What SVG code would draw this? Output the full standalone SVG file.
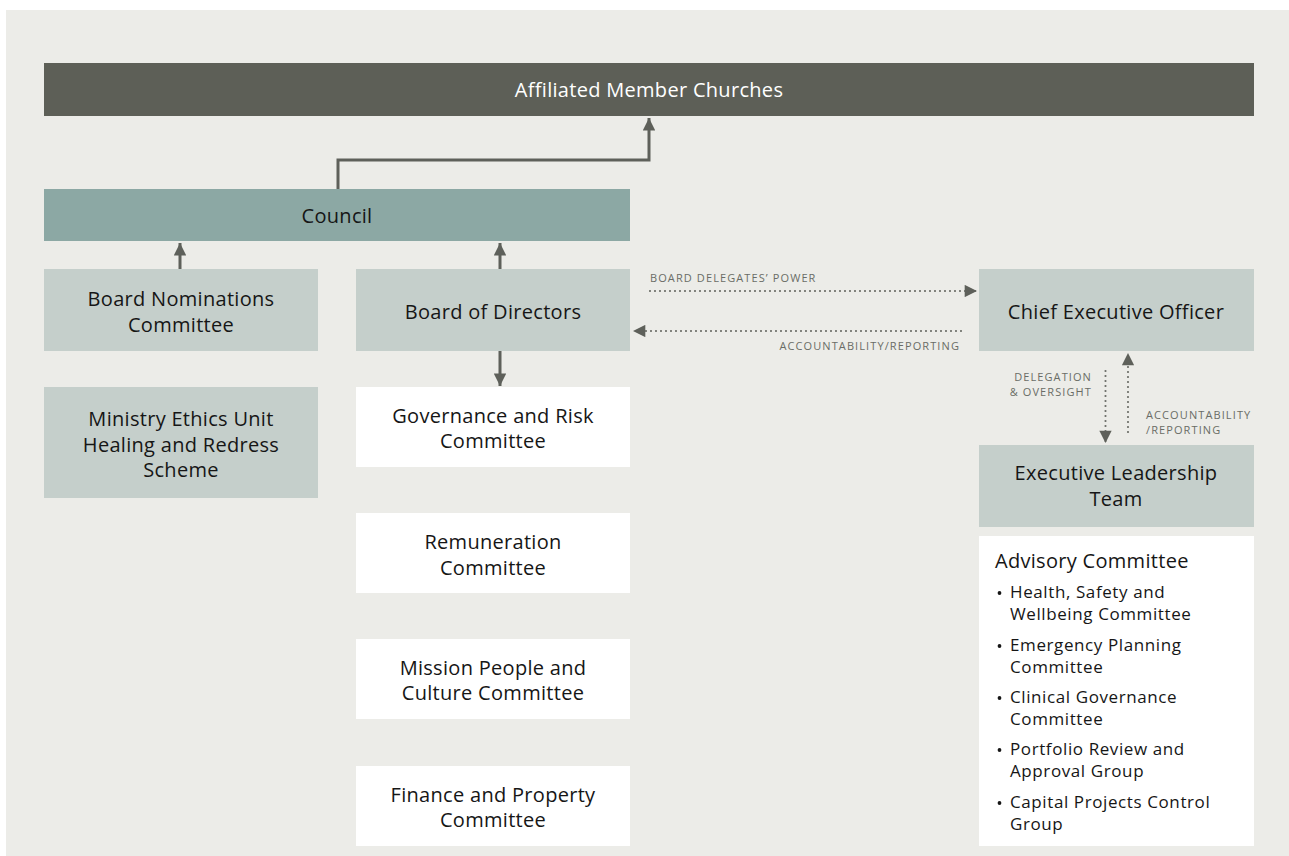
<svg xmlns="http://www.w3.org/2000/svg" width="1289" height="856" viewBox="0 0 1289 856">
<defs>
<style>
.t{font-family:"Open Sans","Liberation Sans",sans-serif;font-size:20px;letter-spacing:0.3px;fill:#161616;text-anchor:middle}
.m{font-weight:500}
.w{fill:#ffffff}
.lbl{font-family:"Open Sans","Liberation Sans",sans-serif;font-size:11px;fill:#6a6c66;letter-spacing:1.1px}
.adv{font-family:"Open Sans","Liberation Sans",sans-serif;font-size:17px;letter-spacing:0.6px;fill:#161616}
.solid{fill:none;stroke:#5e605a;stroke-width:3}
.dot{fill:none;stroke:#6a6c66;stroke-width:2.2;stroke-dasharray:0 5;stroke-linecap:round}
.g1{fill:#c5cfcb}
.wb{fill:#ffffff}
</style>
<marker id="ah" viewBox="0 0 10 10" refX="10" refY="5" markerWidth="6" markerHeight="4.2" markerUnits="strokeWidth" orient="auto">
<path d="M0,0 L10,5 L0,10 z" fill="#5e605a"/>
</marker>
<marker id="ad" viewBox="0 0 10 10" refX="10" refY="5" markerWidth="7.7" markerHeight="5.6" markerUnits="strokeWidth" orient="auto">
<path d="M0,0 L10,5 L0,10 z" fill="#5e605a"/>
</marker>
</defs>
<rect x="0" y="0" width="1289" height="856" fill="#ffffff"/>
<rect x="6" y="10" width="1283" height="846" fill="#ecece8"/>

<g id="connectors">
<polyline class="solid" points="338,189 338,160 649,160 649,118" marker-end="url(#ah)"/>
<line class="solid" x1="180" y1="269" x2="180" y2="243" marker-end="url(#ah)"/>
<line class="solid" x1="500" y1="269" x2="500" y2="243" marker-end="url(#ah)"/>
<line class="solid" x1="500" y1="351" x2="500" y2="386" marker-end="url(#ah)"/>
<line class="dot" x1="650" y1="291" x2="977" y2="291" marker-end="url(#ad)"/>
<line class="dot" x1="961" y1="331" x2="633" y2="331" marker-end="url(#ad)"/>
<line class="dot" x1="1105.5" y1="371" x2="1105.5" y2="443" marker-end="url(#ad)"/>
<line class="dot" x1="1128" y1="432" x2="1128" y2="353" marker-end="url(#ad)"/>
<text class="lbl" x="650" y="282">BOARD DELEGATES’ POWER</text>
<text class="lbl" x="960" y="350" text-anchor="end">ACCOUNTABILITY/REPORTING</text>
<text class="lbl" x="1092" y="381" text-anchor="end">DELEGATION</text>
<text class="lbl" x="1092" y="396" text-anchor="end">&amp; OVERSIGHT</text>
<text class="lbl" x="1146" y="419">ACCOUNTABILITY</text>
<text class="lbl" x="1146" y="434">/REPORTING</text>
</g>

<g id="affiliated">
<rect x="44" y="63" width="1210" height="53" fill="#5d5f57"/>
<text class="t w" x="649" y="97">Affiliated Member Churches</text>
</g>
<g id="council">
<rect x="44" y="189" width="586" height="52" fill="#8ca8a4"/>
<text class="t m" x="337" y="223">Council</text>
</g>
<g id="board-nominations">
<rect class="g1" x="44" y="269" width="274" height="82"/>
<text class="t m" x="181" y="306">Board Nominations</text>
<text class="t m" x="181" y="332">Committee</text>
</g>
<g id="board-directors">
<rect class="g1" x="356" y="269" width="274" height="82"/>
<text class="t m" x="493" y="319">Board of Directors</text>
</g>
<g id="ministry-ethics">
<rect class="g1" x="44" y="387" width="274" height="111"/>
<text class="t m" x="181" y="426">Ministry Ethics Unit</text>
<text class="t m" x="181" y="452">Healing and Redress</text>
<text class="t m" x="181" y="477">Scheme</text>
</g>
<g id="governance">
<rect class="wb" x="356" y="387" width="274" height="80"/>
<text class="t" x="493" y="423">Governance and Risk</text>
<text class="t" x="493" y="448">Committee</text>
</g>
<g id="remuneration">
<rect class="wb" x="356" y="513" width="274" height="80"/>
<text class="t" x="493" y="549">Remuneration</text>
<text class="t" x="493" y="575">Committee</text>
</g>
<g id="mission">
<rect class="wb" x="356" y="639" width="274" height="80"/>
<text class="t" x="493" y="675">Mission People and</text>
<text class="t" x="493" y="700">Culture Committee</text>
</g>
<g id="finance">
<rect class="wb" x="356" y="766" width="274" height="80"/>
<text class="t" x="493" y="802">Finance and Property</text>
<text class="t" x="493" y="827">Committee</text>
</g>
<g id="ceo">
<rect class="g1" x="979" y="269" width="275" height="82"/>
<text class="t m" x="1116" y="319">Chief Executive Officer</text>
</g>
<g id="elt">
<rect class="g1" x="979" y="445" width="275" height="82"/>
<text class="t m" x="1116" y="480">Executive Leadership</text>
<text class="t m" x="1116" y="506">Team</text>
</g>
<g id="advisory">
<rect class="wb" x="979" y="536" width="275" height="310"/>
<text class="adv" x="995" y="568" style="font-size:20px;font-weight:500;letter-spacing:0.3px">Advisory Committee</text>
<g class="adv">
<circle cx="999.5" cy="593" r="1.9" fill="#161616"/>
<text x="1010" y="598">Health, Safety and</text>
<text x="1010" y="620">Wellbeing Committee</text>
<circle cx="999.5" cy="646" r="1.9" fill="#161616"/>
<text x="1010" y="651">Emergency Planning</text>
<text x="1010" y="673">Committee</text>
<circle cx="999.5" cy="698" r="1.9" fill="#161616"/>
<text x="1010" y="703">Clinical Governance</text>
<text x="1010" y="725">Committee</text>
<circle cx="999.5" cy="750" r="1.9" fill="#161616"/>
<text x="1010" y="755">Portfolio Review and</text>
<text x="1010" y="777">Approval Group</text>
<circle cx="999.5" cy="803" r="1.9" fill="#161616"/>
<text x="1010" y="808">Capital Projects Control</text>
<text x="1010" y="830">Group</text>
</g>
</g>
</svg>
